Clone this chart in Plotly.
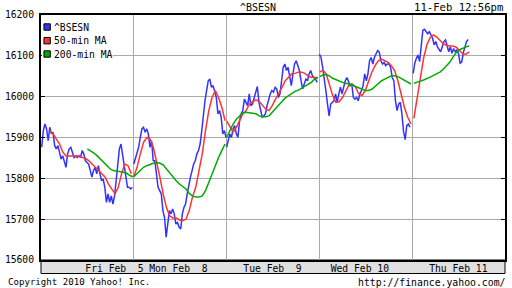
import plotly.graph_objects as go

# ---------------- data ----------------
DAY_MINUTES = 390            # BSE session 09:00-15:30
DAY_LABELS = ["Fri Feb  5", "Mon Feb  8", "Tue Feb  9", "Wed Feb 10", "Thu Feb 11"]
DAY_LABEL_POS = [309, 577, 973, 1340, 1754]   # minute positions of the day labels
Y_TICKS = [15600, 15700, 15800, 15900, 16000, 16100, 16200]

BSESN_STEP = 6.8             # minutes between sampled index values
MA_STEP = 13.7

BSESN_FRI = [15876, 15917, 15933, 15921, 15892, 15925, 15909, 15913, 15880, 15872,
             15880, 15860, 15847, 15855, 15843, 15827, 15860, 15872, 15876, 15860,
             15851, 15855, 15851, 15855, 15851, 15868, 15860, 15843, 15839, 15835,
             15819, 15803, 15819, 15827, 15811, 15831, 15811, 15794, 15798, 15778,
             15741, 15762, 15741, 15757, 15737, 15757, 15794, 15843, 15872, 15884,
             15860, 15827, 15803, 15778, 15778, 15774, 15778]
BSESN_MON = [15835, 15851, 15860, 15876, 15900, 15921, 15925, 15913, 15921, 15909,
             15876, 15892, 15843, 15843, 15811, 15778, 15770, 15762, 15721, 15704,
             15656, 15696, 15721, 15713, 15725, 15713, 15688, 15692, 15680, 15676,
             15713, 15729, 15737, 15762, 15786, 15803, 15819, 15835, 15843, 15860,
             15868, 15884, 15917, 15958, 15990, 16015, 16039, 16043, 16023, 16027,
             16015, 15998, 15958, 15966, 15950, 15909, 15917, 15900]
BSESN_TUE = [15876, 15892, 15909, 15900, 15921, 15929, 15909, 15900, 15941, 15958,
             15966, 15994, 15986, 15978, 16007, 15978, 15982, 15998, 16011, 16025,
             15986, 15966, 15950, 15953, 15958, 15978, 15994, 16007, 16015, 16011,
             16023, 16019, 15998, 16007, 16039, 16072, 16080, 16064, 16072, 16047,
             16027, 16056, 16080, 16088, 16076, 16064, 16039, 16019, 16031, 16043,
             16039, 16056, 16064, 16051, 16047, 16043, 16035]
BSESN_WED = [16104, 16096, 16072, 16047, 16015, 15982, 15953, 15982, 15986, 15990,
             16007, 15986, 16007, 16023, 16007, 16027, 16039, 16047, 16039, 16027,
             16031, 15998, 15994, 15998, 15990, 16007, 16015, 16027, 16056, 16039,
             16056, 16088, 16096, 16080, 16096, 16104, 16113, 16109, 16088, 16080,
             16084, 16076, 16080, 16080, 16072, 16047, 16039, 15990, 15966, 15982,
             15986, 15958, 15915, 15895, 15929, 15933, 15925]
BSESN_THU = [16057, 16082, 16094, 16102, 16086, 16122, 16163, 16165, 16160, 16154,
             16159, 16151, 16143, 16127, 16135, 16122, 16114, 16110, 16122, 16135,
             16139, 16122, 16110, 16122, 16106, 16118, 16110, 16114, 16106, 16082,
             16085, 16108, 16125, 16135, 16140]

MA50_FRI = [15917, 15909, 15896, 15884, 15864, 15855, 15855, 15855, 15855, 15855,
            15851, 15849, 15843, 15835, 15827, 15819, 15811, 15803, 15786, 15774,
            15762, 15778, 15811, 15835, 15831, 15811]
MA50_MON = [15804, 15827, 15860, 15888, 15900, 15896, 15876, 15843, 15803, 15762,
            15729, 15708, 15703, 15703, 15698, 15696, 15700, 15721, 15754, 15778,
            15819, 15860, 15917, 15966, 15998, 16015, 15998, 15974, 15941]
MA50_TUE = [15941, 15925, 15913, 15925, 15941, 15958, 15966, 15982, 15988, 15992,
            15988, 15978, 15970, 15966, 15978, 15994, 16007, 16023, 16039, 16047,
            16056, 16057, 16060, 16060, 16057, 16051, 16047, 16047, 16047]
MA50_WED = [16060, 16065, 16056, 16031, 16003, 15986, 15988, 15998, 16015, 16029,
            16031, 16023, 16007, 16003, 16015, 16039, 16060, 16076, 16088, 16092,
            16088, 16084, 16076, 16064, 16039, 16007, 15974, 15950, 15933]
MA50_THU = [15947, 16000, 16052, 16095, 16127, 16145, 16151, 16146, 16138, 16130,
            16126, 16124, 16124, 16121, 16113, 16105, 16104, 16110]

MA200_FRI = [15872, 15868, 15862, 15855, 15847, 15839, 15831, 15823, 15819, 15818,
             15816, 15815, 15813, 15807, 15804]
MA200_MON = [15804, 15811, 15819, 15827, 15831, 15835, 15837, 15839, 15837, 15833,
             15823, 15813, 15803, 15794, 15786, 15780, 15774, 15763, 15757, 15754,
             15754, 15757, 15770, 15790, 15811, 15831, 15851, 15868, 15884]
MA200_TUE = [15900, 15917, 15933, 15945, 15953, 15960, 15962, 15961, 15959, 15958,
             15953, 15951, 15951, 15953, 15962, 15970, 15978, 15988, 15997, 16003,
             16008, 16013, 16016, 16021, 16027, 16031, 16035, 16043, 16047]
MA200_WED = [16049, 16053, 16054, 16051, 16045, 16041, 16039, 16035, 16033, 16031,
             16029, 16025, 16021, 16018, 16015, 16015, 16018, 16025, 16033, 16039,
             16043, 16047, 16051, 16051, 16049, 16045, 16041, 16035, 16031]
MA200_THU = [16033, 16035, 16038, 16041, 16044, 16048, 16052, 16056, 16060, 16067,
             16075, 16084, 16097, 16108, 16115, 16119, 16122, 16124]

BSESN_START = [3, 0, 0, 0, 4]        # first sample minute within each session
MA50_START = [37, 0, 0, 1, 7]
MA200_START = [195, 0, 0, 1, 7]

SERIES_NAMES = ["^BSESN", "50-min MA", "200-min MA"]
COLORS = ["#3333ff", "#ff3333", "#00aa00"]


def build(day_values, starts, step):
    xs, ys = [], []
    for d, (vals, s) in enumerate(zip(day_values, starts)):
        for i, v in enumerate(vals):
            xs.append(d * DAY_MINUTES + s + i * step)
            ys.append(v)
        xs.append(None)
        ys.append(None)
    return xs, ys


series = [
    build([BSESN_FRI, BSESN_MON, BSESN_TUE, BSESN_WED, BSESN_THU], BSESN_START, BSESN_STEP),
    build([MA50_FRI, MA50_MON, MA50_TUE, MA50_WED, MA50_THU], MA50_START, MA_STEP),
    build([MA200_FRI, MA200_MON, MA200_TUE, MA200_WED, MA200_THU], MA200_START, MA_STEP),
]

# ---------------- layout geometry ----------------
W, H = 512, 288
ML, MR, MT, MB = 34, 5, 15, 28
PW, PH = W - ML - MR, H - MT - MB


def PX(x):
    return (x - ML) / PW


def PY(y):
    return (H - MB - y) / PH


FONT = "DejaVu Sans Mono"

fig = go.Figure()
for (xs, ys), name, col in zip(series, SERIES_NAMES, COLORS):
    fig.add_trace(go.Scatter(x=xs, y=ys, mode="lines", name=name,
                             line=dict(color=col, width=1.5),
                             connectgaps=False, showlegend=False,
                             hoverinfo="skip"))

shapes = []
annotations = []

# x label band
shapes.append(dict(type="rect", xref="paper", yref="paper", x0=0, x1=1,
                   y0=PY(273.5), y1=0, fillcolor="#e0e0e0",
                   line=dict(color="black", width=1), layer="below"))

# manual legend (white box, coloured squares, texts)
shapes.append(dict(type="rect", xref="paper", yref="paper", x0=PX(35), x1=PX(107),
                   y0=PY(59), y1=PY(16), fillcolor="white",
                   line=dict(width=0), layer="above"))
leg_rows = [27, 40.7, 54]
for name, col, yc in zip(SERIES_NAMES, COLORS, leg_rows):
    shapes.append(dict(type="rect", xref="paper", yref="paper",
                       x0=PX(37), x1=PX(43.5), y0=PY(yc + 3.2), y1=PY(yc - 3.2),
                       fillcolor=col, line=dict(color="black", width=1), layer="above"))
    annotations.append(dict(text=name, xref="paper", yref="paper", x=PX(45.5), y=PY(yc),
                            xanchor="left", yanchor="middle", showarrow=False,
                            font=dict(family=FONT, size=9.7, color="black")))

# title, date, footer
annotations += [
    dict(text="^BSESN", xref="paper", yref="paper", x=PX(255.5), y=PY(7),
         xanchor="center", yanchor="middle", showarrow=False,
         font=dict(family=FONT, size=10, color="black")),
    dict(text="11-Feb 12:56pm", xref="paper", yref="paper", x=PX(507), y=PY(7),
         xanchor="right", yanchor="middle", showarrow=False,
         font=dict(family=FONT, size=10.6, color="black")),
    dict(text="Copyright 2010 Yahoo! Inc.", xref="paper", yref="paper", x=PX(-2), y=PY(281.5),
         xanchor="left", yanchor="middle", showarrow=False,
         font=dict(family=FONT, size=9.1, color="black")),
    dict(text="http://finance.yahoo.com/", xref="paper", yref="paper", x=PX(510), y=PY(282.5),
         xanchor="right", yanchor="middle", showarrow=False,
         font=dict(family=FONT, size=9.8, color="black")),
]

fig.update_layout(
    width=W, height=H,
    margin=dict(l=ML, r=MR, t=MT, b=MB, pad=0),
    paper_bgcolor="white", plot_bgcolor="white",
    shapes=shapes, annotations=annotations,
    showlegend=False,
    xaxis=dict(range=[0, len(DAY_LABELS) * DAY_MINUTES], tickmode="array",
               tickvals=DAY_LABEL_POS, ticktext=DAY_LABELS, ticks="",
               showgrid=False, zeroline=False,
               showline=True, linecolor="black", linewidth=2, mirror=True,
               tickfont=dict(family=FONT, size=9.7, color="black"),
               ticklabelstandoff=-2,
               minor=dict(tickmode="array",
                          tickvals=[DAY_MINUTES * k for k in range(1, len(DAY_LABELS))],
                          showgrid=True, gridcolor="#aaaaaa", gridwidth=1, ticks="")),
    yaxis=dict(range=[Y_TICKS[0], Y_TICKS[-1]], tickmode="array", tickvals=Y_TICKS,
               ticktext=[str(v) for v in Y_TICKS],
               ticks="inside", ticklen=4, tickcolor="black", tickwidth=1,
               showgrid=True, gridcolor="#aaaaaa", gridwidth=1, zeroline=False,
               showline=True, linecolor="black", linewidth=2, mirror="ticks",
               tickfont=dict(family=FONT, size=9.7, color="black"),
               ticklabelstandoff=3),
)

fig.write_html("out.html")
